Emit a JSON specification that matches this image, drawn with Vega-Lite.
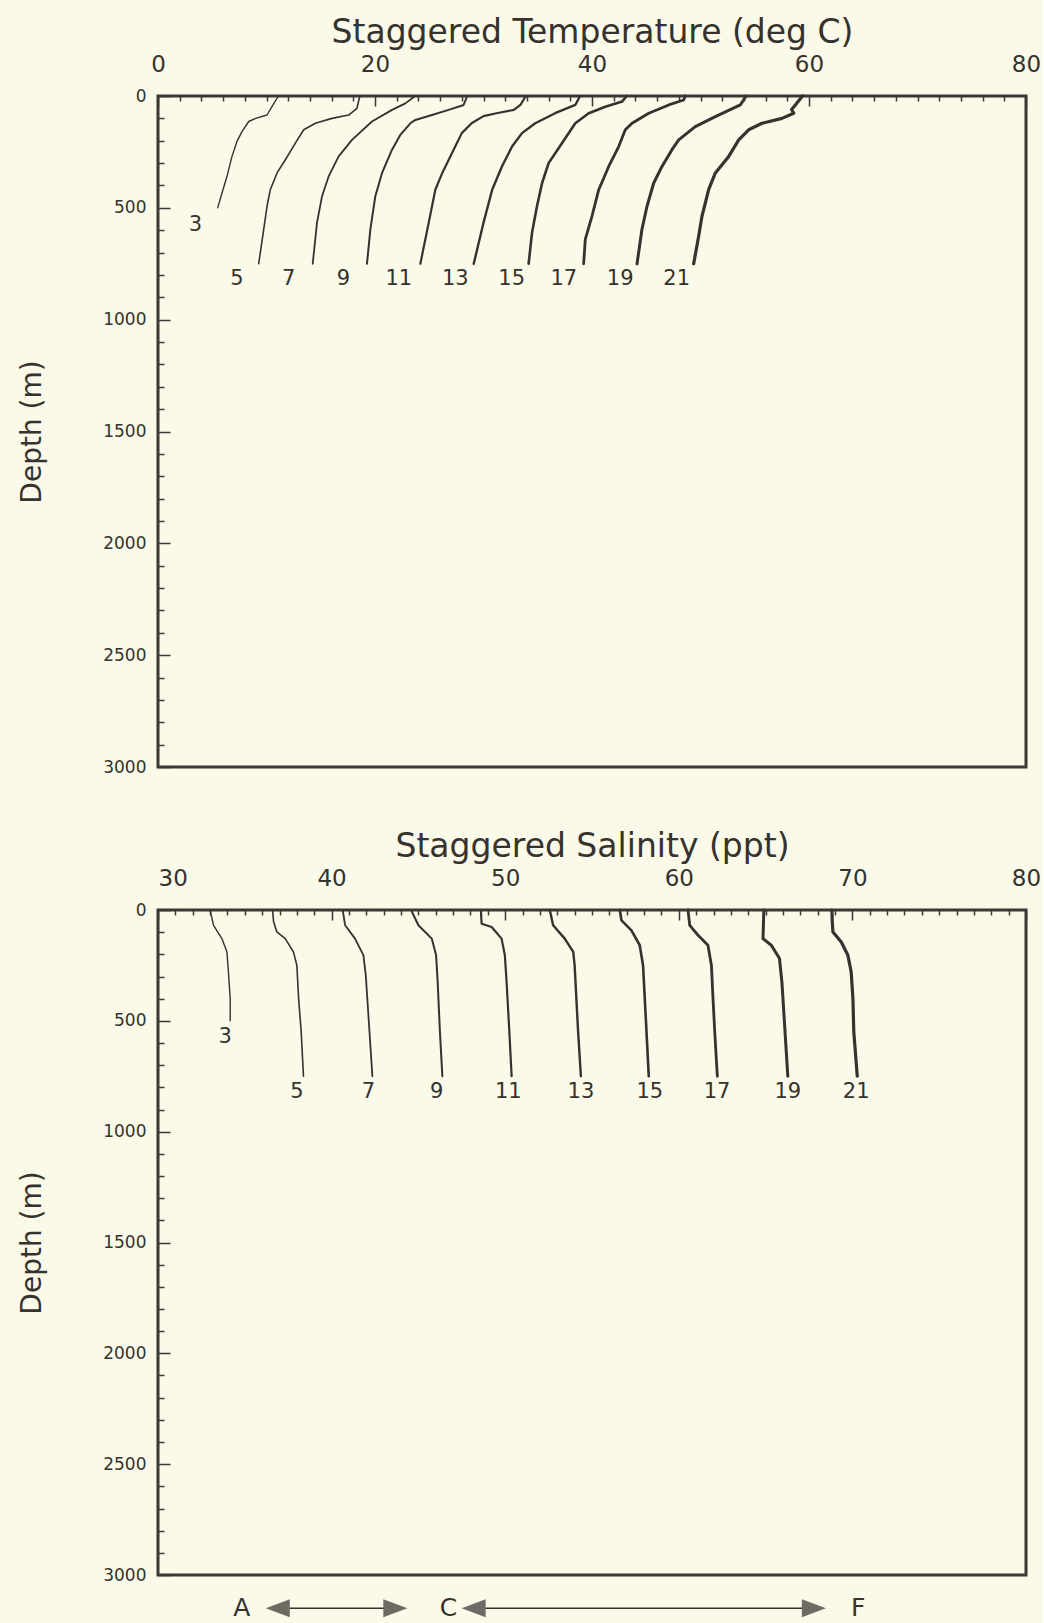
{
  "$schema": "https://vega.github.io/schema/vega-lite/v6.json",
  "background": "#fbf9e7",
  "padding": {"left": 17, "top": 14, "right": 0, "bottom": 0},
  "bounds": "flush",
  "spacing": 143,
  "config": {
    "font": "DejaVu Sans",
    "view": {"stroke": "#3b3835", "strokeWidth": 3},
    "axis": {"domain": false, "grid": false, "tickColor": "#3b3835", "tickWidth": 1.5, "labelColor": "#35322f", "titleColor": "#35322f", "labelFont": "DejaVu Sans", "titleFont": "DejaVu Sans", "titleFontWeight": "normal", "labelFlush": false, "labelOverlap": false, "labelFontSize": 23, "titleFontSize": 33},
    "axisY": {"labelFontSize": 17, "titleFontSize": 28}
  },
  "datasets": {
    "temp": [
      {"st":3,"d":0,"v":11.1},{"st":3,"d":48,"v":10.5},{"st":3,"d":85,"v":10.05},{"st":3,"d":100,"v":9.0},{"st":3,"d":114,"v":8.36},{"st":3,"d":159,"v":7.74},{"st":3,"d":203,"v":7.28},{"st":3,"d":270,"v":6.82},{"st":3,"d":359,"v":6.36},{"st":3,"d":434,"v":5.9},{"st":3,"d":500,"v":5.5},
      {"st":5,"d":0,"v":18.6},{"st":5,"d":55,"v":18.34},{"st":5,"d":85,"v":17.57},{"st":5,"d":100,"v":16.04},{"st":5,"d":122,"v":14.5},{"st":5,"d":151,"v":13.43},{"st":5,"d":211,"v":12.66},{"st":5,"d":285,"v":11.74},{"st":5,"d":344,"v":10.97},{"st":5,"d":419,"v":10.35},{"st":5,"d":493,"v":10.05},{"st":5,"d":597,"v":9.74},{"st":5,"d":750,"v":9.28},
      {"st":7,"d":0,"v":23.7},{"st":7,"d":33,"v":22.8},{"st":7,"d":62,"v":21.57},{"st":7,"d":114,"v":19.72},{"st":7,"d":196,"v":17.88},{"st":7,"d":270,"v":16.65},{"st":7,"d":359,"v":15.73},{"st":7,"d":448,"v":15.12},{"st":7,"d":567,"v":14.65},{"st":7,"d":750,"v":14.26},
      {"st":9,"d":0,"v":28.5},{"st":9,"d":40,"v":28.17},{"st":9,"d":62,"v":26.79},{"st":9,"d":85,"v":25.25},{"st":9,"d":107,"v":23.72},{"st":9,"d":122,"v":23.26},{"st":9,"d":174,"v":22.33},{"st":9,"d":240,"v":21.57},{"st":9,"d":344,"v":20.65},{"st":9,"d":448,"v":20.03},{"st":9,"d":597,"v":19.57},{"st":9,"d":750,"v":19.26},
      {"st":11,"d":0,"v":33.9},{"st":11,"d":40,"v":33.4},{"st":11,"d":62,"v":32.8},{"st":11,"d":77,"v":31.2},{"st":11,"d":90,"v":30.0},{"st":11,"d":122,"v":28.9},{"st":11,"d":166,"v":28.0},{"st":11,"d":255,"v":27.1},{"st":11,"d":344,"v":26.2},{"st":11,"d":419,"v":25.56},{"st":11,"d":567,"v":24.95},{"st":11,"d":750,"v":24.18},
      {"st":13,"d":0,"v":38.9},{"st":13,"d":40,"v":38.46},{"st":13,"d":77,"v":36.6},{"st":13,"d":122,"v":34.77},{"st":13,"d":166,"v":33.55},{"st":13,"d":226,"v":32.63},{"st":13,"d":315,"v":31.7},{"st":13,"d":419,"v":30.8},{"st":13,"d":567,"v":30.0},{"st":13,"d":750,"v":29.1},
      {"st":15,"d":0,"v":43.2},{"st":15,"d":25,"v":42.77},{"st":15,"d":48,"v":41.23},{"st":15,"d":77,"v":39.7},{"st":15,"d":122,"v":38.46},{"st":15,"d":211,"v":37.23},{"st":15,"d":300,"v":36.0},{"st":15,"d":389,"v":35.4},{"st":15,"d":493,"v":34.93},{"st":15,"d":612,"v":34.47},{"st":15,"d":750,"v":34.16},
      {"st":17,"d":0,"v":48.6},{"st":17,"d":18,"v":48.45},{"st":17,"d":40,"v":47.07},{"st":17,"d":77,"v":45.23},{"st":17,"d":122,"v":43.69},{"st":17,"d":151,"v":43.07},{"st":17,"d":226,"v":42.46},{"st":17,"d":315,"v":41.54},{"st":17,"d":419,"v":40.62},{"st":17,"d":537,"v":40.0},{"st":17,"d":641,"v":39.38},{"st":17,"d":750,"v":39.23},
      {"st":19,"d":0,"v":54.2},{"st":19,"d":40,"v":53.67},{"st":19,"d":92,"v":51.37},{"st":19,"d":137,"v":49.52},{"st":19,"d":196,"v":47.99},{"st":19,"d":240,"v":47.37},{"st":19,"d":315,"v":46.45},{"st":19,"d":389,"v":45.69},{"st":19,"d":493,"v":45.07},{"st":19,"d":597,"v":44.6},{"st":19,"d":750,"v":44.15},
      {"st":21,"d":0,"v":59.4},{"st":21,"d":40,"v":58.74},{"st":21,"d":60,"v":58.4},{"st":21,"d":77,"v":58.59},{"st":21,"d":100,"v":57.51},{"st":21,"d":122,"v":55.67},{"st":21,"d":151,"v":54.44},{"st":21,"d":196,"v":53.52},{"st":21,"d":270,"v":52.6},{"st":21,"d":344,"v":51.37},{"st":21,"d":419,"v":50.75},{"st":21,"d":537,"v":50.14},{"st":21,"d":627,"v":49.83},{"st":21,"d":750,"v":49.37}
    ],
    "labT": [
      {"st":3,"d":575,"v":3.44},{"st":5,"d":820,"v":7.28},{"st":7,"d":820,"v":12.05},{"st":9,"d":820,"v":17.1},{"st":11,"d":820,"v":22.2},{"st":13,"d":820,"v":27.4},{"st":15,"d":820,"v":32.6},{"st":17,"d":820,"v":37.4},{"st":19,"d":820,"v":42.6},{"st":21,"d":820,"v":47.8}
    ],
    "sal": [
      {"st":3,"d":0,"v":33.0},{"st":3,"d":69,"v":33.2},{"st":3,"d":129,"v":33.68},{"st":3,"d":189,"v":33.97},{"st":3,"d":295,"v":34.07},{"st":3,"d":400,"v":34.16},{"st":3,"d":500,"v":34.16},
      {"st":5,"d":0,"v":36.6},{"st":5,"d":54,"v":36.66},{"st":5,"d":99,"v":36.85},{"st":5,"d":129,"v":37.33},{"st":5,"d":189,"v":37.8},{"st":5,"d":250,"v":38.0},{"st":5,"d":400,"v":38.1},{"st":5,"d":550,"v":38.25},{"st":5,"d":750,"v":38.38},
      {"st":7,"d":0,"v":40.64},{"st":7,"d":69,"v":40.78},{"st":7,"d":129,"v":41.35},{"st":7,"d":204,"v":41.83},{"st":7,"d":295,"v":41.97},{"st":7,"d":475,"v":42.12},{"st":7,"d":750,"v":42.35},
      {"st":9,"d":0,"v":44.58},{"st":9,"d":69,"v":45.0},{"st":9,"d":129,"v":45.77},{"st":9,"d":204,"v":46.02},{"st":9,"d":325,"v":46.11},{"st":9,"d":550,"v":46.24},{"st":9,"d":750,"v":46.38},
      {"st":11,"d":0,"v":48.6},{"st":11,"d":62,"v":48.64},{"st":11,"d":77,"v":49.22},{"st":11,"d":129,"v":49.79},{"st":11,"d":204,"v":49.98},{"st":11,"d":325,"v":50.08},{"st":11,"d":550,"v":50.24},{"st":11,"d":750,"v":50.37},
      {"st":13,"d":0,"v":52.57},{"st":13,"d":69,"v":52.76},{"st":13,"d":129,"v":53.43},{"st":13,"d":189,"v":53.92},{"st":13,"d":250,"v":54.0},{"st":13,"d":400,"v":54.1},{"st":13,"d":550,"v":54.2},{"st":13,"d":750,"v":54.36},
      {"st":15,"d":0,"v":56.6},{"st":15,"d":47,"v":56.7},{"st":15,"d":92,"v":57.27},{"st":15,"d":159,"v":57.75},{"st":15,"d":250,"v":57.94},{"st":15,"d":400,"v":58.04},{"st":15,"d":550,"v":58.14},{"st":15,"d":750,"v":58.27},
      {"st":17,"d":0,"v":60.53},{"st":17,"d":69,"v":60.63},{"st":17,"d":114,"v":61.11},{"st":17,"d":159,"v":61.68},{"st":17,"d":250,"v":61.88},{"st":17,"d":400,"v":61.97},{"st":17,"d":550,"v":62.07},{"st":17,"d":750,"v":62.22},
      {"st":19,"d":0,"v":64.9},{"st":19,"d":129,"v":64.85},{"st":19,"d":159,"v":65.33},{"st":19,"d":219,"v":65.8},{"st":19,"d":325,"v":65.94},{"st":19,"d":475,"v":66.06},{"st":19,"d":750,"v":66.28},
      {"st":21,"d":0,"v":68.82},{"st":21,"d":54,"v":68.84},{"st":21,"d":99,"v":68.88},{"st":21,"d":144,"v":69.36},{"st":21,"d":204,"v":69.74},{"st":21,"d":280,"v":69.93},{"st":21,"d":400,"v":70.03},{"st":21,"d":550,"v":70.08},{"st":21,"d":750,"v":70.28}
    ],
    "labS": [
      {"st":3,"d":573,"v":33.87},{"st":5,"d":821,"v":38.0},{"st":7,"d":821,"v":42.12},{"st":9,"d":821,"v":46.05},{"st":11,"d":821,"v":50.18},{"st":13,"d":821,"v":54.36},{"st":15,"d":821,"v":58.33},{"st":17,"d":821,"v":62.2},{"st":19,"d":821,"v":66.28},{"st":21,"d":821,"v":70.22}
    ],
    "arrows": [{"s1":36.9,"s2":43.67},{"s1":48.18,"s2":67.78}],
    "heads": [{"s":36.9,"dir":"left"},{"s":43.67,"dir":"right"},{"s":48.18,"dir":"left"},{"s":67.78,"dir":"right"}],
    "ends": [{"s":34.83,"t":"A"},{"s":46.74,"t":"C"},{"s":70.33,"t":"F"}]
  },
  "vconcat": [
    {
      "width": 868,
      "height": 671,
      "layer": [
        {
          "data": {"name": "temp"},
          "mark": {"type": "line", "color": "#35322f", "strokeJoin": "round", "strokeCap": "round"},
          "encoding": {
            "x": {"field": "v", "type": "quantitative", "scale": {"domain": [0, 80], "nice": false, "zero": false},
              "axis": {"orient": "top", "title": "Staggered Temperature (deg C)", "format": "d", "labelOverlap": false, "labelFlush": false, "tickCount": 500,
                "values": [0,2,4,6,8,10,12,14,16,18,20,22,24,26,28,30,32,34,36,38,40,42,44,46,48,50,52,54,56,58,60,62,64,66,68,70,72,74,76,78,80],
                "labelExpr": "datum.value % 20 === 0 ? datum.label : ''",
                "tickSize": {"condition": {"test": "datum.value % 20 === 0", "value": -10}, "value": -5},
                "labelPadding": 35, "labelBaseline": "alphabetic", "titleY": -54, "titleBaseline": "alphabetic"}},
            "y": {"field": "d", "type": "quantitative", "scale": {"domain": [0, 3000], "reverse": true, "nice": false},
              "axis": {"title": "Depth (m)", "format": "d", "labelOverlap": false, "tickCount": 500,
                "values": [0,100,200,300,400,500,600,700,800,900,1000,1100,1200,1300,1400,1500,1600,1700,1800,1900,2000,2100,2200,2300,2400,2500,2600,2700,2800,2900,3000],
                "labelExpr": "datum.value % 500 === 0 ? datum.label : ''",
                "tickSize": {"condition": {"test": "datum.value % 500 === 0", "value": -12}, "value": -6},
                "labelPadding": 24, "titleX": -117.5, "titleBaseline": "alphabetic"}},
            "strokeWidth": {"field": "st", "type": "ordinal", "scale": {"domain": [3,5,7,9,11,13,15,17,19,21], "range": [1.4,3.2,1.4,3.2,1.4,3.2,1.4,3.2,1.4,3.2]}, "legend": null},
            "order": {"field": "d", "type": "quantitative"}
          }
        },
        {
          "data": {"name": "labT"},
          "mark": {"type": "text", "fontSize": 21, "color": "#35322f", "baseline": "middle", "align": "center"},
          "encoding": {
            "x": {"field": "v", "type": "quantitative"},
            "y": {"field": "d", "type": "quantitative"},
            "text": {"field": "st", "type": "nominal"}
          }
        }
      ]
    },
    {
      "width": 868,
      "height": 665,
      "layer": [
        {
          "data": {"name": "sal"},
          "mark": {"type": "line", "color": "#35322f", "strokeJoin": "round", "strokeCap": "round"},
          "encoding": {
            "x": {"field": "v", "type": "quantitative", "scale": {"domain": [30, 80], "nice": false, "zero": false},
              "axis": {"orient": "top", "title": "Staggered Salinity (ppt)", "format": "d", "labelOverlap": false, "labelFlush": false, "tickCount": 500,
                "values": [30,31,32,33,34,35,36,37,38,39,40,41,42,43,44,45,46,47,48,49,50,51,52,53,54,55,56,57,58,59,60,61,62,63,64,65,66,67,68,69,70,71,72,73,74,75,76,77,78,79,80],
                "labelExpr": "datum.value % 10 === 0 ? datum.label : ''",
                "tickSize": {"condition": {"test": "datum.value % 10 === 0", "value": -10}, "value": -5},
                "labelAlign": {"condition": {"test": "datum.value === 30", "value": "left"}, "value": "center"},
                "labelPadding": 35, "labelBaseline": "alphabetic", "titleY": -54, "titleBaseline": "alphabetic"}},
            "y": {"field": "d", "type": "quantitative", "scale": {"domain": [0, 3000], "reverse": true, "nice": false},
              "axis": {"title": "Depth (m)", "format": "d", "labelOverlap": false, "tickCount": 500,
                "values": [0,100,200,300,400,500,600,700,800,900,1000,1100,1200,1300,1400,1500,1600,1700,1800,1900,2000,2100,2200,2300,2400,2500,2600,2700,2800,2900,3000],
                "labelExpr": "datum.value % 500 === 0 ? datum.label : ''",
                "tickSize": {"condition": {"test": "datum.value % 500 === 0", "value": -12}, "value": -6},
                "labelPadding": 24, "titleX": -117.5, "titleBaseline": "alphabetic"}},
            "strokeWidth": {"field": "st", "type": "ordinal", "scale": {"domain": [3,5,7,9,11,13,15,17,19,21], "range": [1.4,3.2,1.4,3.2,1.4,3.2,1.4,3.2,1.4,3.2]}, "legend": null},
            "order": {"field": "d", "type": "quantitative"}
          }
        },
        {
          "data": {"name": "labS"},
          "mark": {"type": "text", "fontSize": 21, "color": "#35322f", "baseline": "middle", "align": "center"},
          "encoding": {
            "x": {"field": "v", "type": "quantitative"},
            "y": {"field": "d", "type": "quantitative"},
            "text": {"field": "st", "type": "nominal"}
          }
        },
        {
          "data": {"name": "arrows"},
          "mark": {"type": "rule", "color": "#35322f", "strokeWidth": 1.3},
          "encoding": {
            "x": {"field": "s1", "type": "quantitative"},
            "x2": {"field": "s2"},
            "y": {"datum": 3150, "type": "quantitative"}
          }
        },
        {
          "data": {"name": "heads"},
          "mark": {"type": "point", "filled": true, "opacity": 1, "size": 576, "color": "#6f6b64"},
          "encoding": {
            "x": {"field": "s", "type": "quantitative"},
            "y": {"datum": 3150, "type": "quantitative"},
            "shape": {"field": "dir", "type": "nominal", "scale": {"domain": ["left", "right"], "range": ["M-1,0L1,-0.75L1,0.75Z", "M1,0L-1,-0.75L-1,0.75Z"]}, "legend": null}
          }
        },
        {
          "data": {"name": "ends"},
          "mark": {"type": "text", "fontSize": 25, "color": "#35322f", "baseline": "middle", "align": "center"},
          "encoding": {
            "x": {"field": "s", "type": "quantitative"},
            "y": {"datum": 3150, "type": "quantitative"},
            "text": {"field": "t", "type": "nominal"}
          }
        }
      ]
    }
  ]
}
